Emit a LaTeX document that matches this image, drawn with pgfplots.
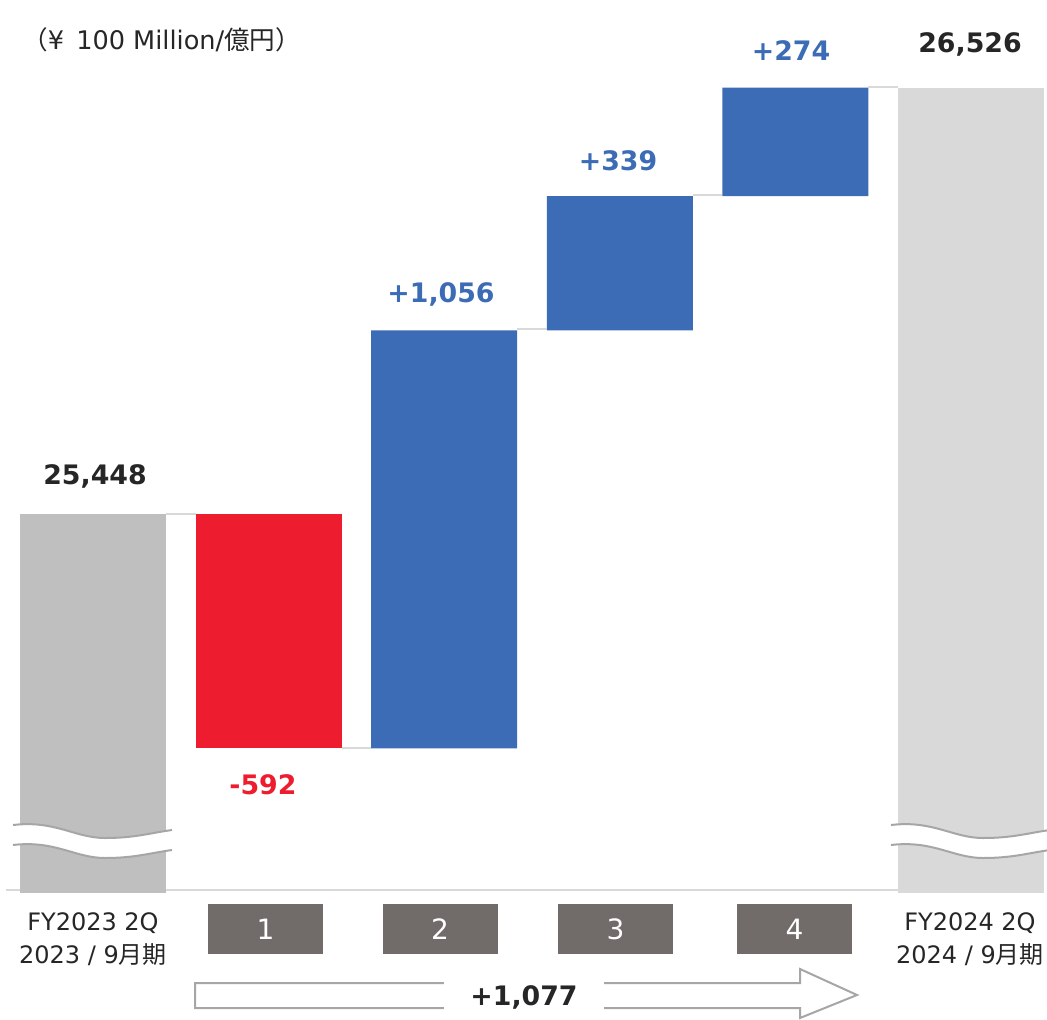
\documentclass[border=0pt]{standalone}
\usepackage{pgfplots}
\pgfplotsset{compat=1.18}
\usepackage{fontspec}
\setmainfont{DejaVu Sans}
\newfontfamily\jp{Noto Sans CJK JP}
\definecolor{g1}{HTML}{BFBFBF}
\definecolor{g2}{HTML}{D9D9D9}
\definecolor{rd}{HTML}{ED1C2E}
\definecolor{bl}{HTML}{3C6CB5}
\definecolor{bx}{HTML}{716B6A}
\definecolor{ln}{HTML}{D9D9D9}
\definecolor{wv}{HTML}{A6A6A6}
\definecolor{tx}{HTML}{262626}
\newcommand\brk[1]{%
  \begin{scope}[shift={(#1,0)}]
    \fill[white] (13,825) .. controls (55,820) and (75,838) .. (105,838) .. controls (135,838) and (150,833) .. (172,830)
      -- (172,850) .. controls (150,853) and (135,858) .. (105,858) .. controls (75,858) and (55,840) .. (13,845) -- cycle;
    \draw[wv, line width=1pt] (13,825) .. controls (55,820) and (75,838) .. (105,838) .. controls (135,838) and (150,833) .. (172,830);
    \draw[wv, line width=1pt] (13,845) .. controls (55,840) and (75,858) .. (105,858) .. controls (135,858) and (150,853) .. (172,850);
  \end{scope}}
\begin{document}
\begin{tikzpicture}
\begin{axis}[name=ax, scale only axis, width=523.5pt, height=509.5pt,
  xmin=-0.52961, xmax=5.43280, ymin=24172.1, ymax=26746.6,
  hide axis, clip=false, ybar stacked, bar width=0.8314]
\addplot[draw=none, fill=none] coordinates {(0,24490) (1,24856) (2,24856) (3,25912) (4,26251) (5,24490)};
\addplot[draw=none, fill=g1] coordinates {(0,958) (1,0) (2,0) (3,0) (4,0) (5,0)};
\addplot[draw=none, fill=rd] coordinates {(0,0) (1,592) (2,0) (3,0) (4,0) (5,0)};
\addplot[draw=none, fill=bl] coordinates {(0,0) (1,0) (2,1056) (3,339) (4,274) (5,0)};
\addplot[draw=none, fill=g2] coordinates {(0,0) (1,0) (2,0) (3,0) (4,0) (5,2035)};
\end{axis}
\begin{scope}[shift={(ax.north west)}, x=0.5pt, y=-0.5pt]
  % baseline
  \draw[ln, line width=1pt] (6,890) -- (20,890) (166,890) -- (898,890);
  % connectors
  \draw[ln, line width=1pt] (166,514) -- (196,514) (342,748) -- (371,748) (517,329) -- (547,329) (693,195) -- (722,195) (868,87) -- (898,87);
  % breaks
  \brk{0}
  \brk{878}
  % value labels
  \begin{scope}[font=\bfseries\fontsize{13.4}{16}\selectfont]
    \node[text=tx] at (95,476) {25,448};
    \node[text=rd] at (263,785) {-592};
    \node[text=bl] at (441,294) {+1,056};
    \node[text=bl] at (618,161) {+339};
    \node[text=bl] at (791,51) {+274};
    \node[text=tx] at (970,44) {26,526};
  \end{scope}
  % unit
  \node[anchor=west, text=tx, font=\fontsize{12.8}{15}\selectfont, inner sep=0pt] at (22,40) {{\jp （}¥\hspace{6pt}100 Million/{\jp 億円）}};
  % category labels
  \node[align=center, text=tx, font=\fontsize{12}{16.5}\selectfont] at (93,939) {FY2023 2Q\\2023 / 9{\jp 月期}};
  \node[align=center, text=tx, font=\fontsize{12}{16.5}\selectfont] at (970,939) {FY2024 2Q\\2024 / 9{\jp 月期}};
  \begin{scope}[every node/.style={fill=bx, minimum width=57.5pt, minimum height=25pt, inner sep=0pt, text=white, font=\fontsize{14}{16}\selectfont}]
    \node at (265.5,929) {1};
    \node at (440,929) {2};
    \node at (615.5,929) {3};
    \node at (794.5,929) {4};
  \end{scope}
  % arrow
  \draw[wv, line width=1pt, fill=white, line join=miter] (195,983) -- (800,983) -- (800,969) -- (857,995) -- (800,1018) -- (800,1008) -- (195,1008) -- cycle;
  \node[fill=white, inner xsep=13pt, minimum height=15pt, text=tx, font=\bfseries\fontsize{13.4}{16}\selectfont] at (524,997) {+1,077};
  \pgfresetboundingbox
  \path (0,0) rectangle (1047,1019);
\end{scope}
\end{tikzpicture}
\end{document}
